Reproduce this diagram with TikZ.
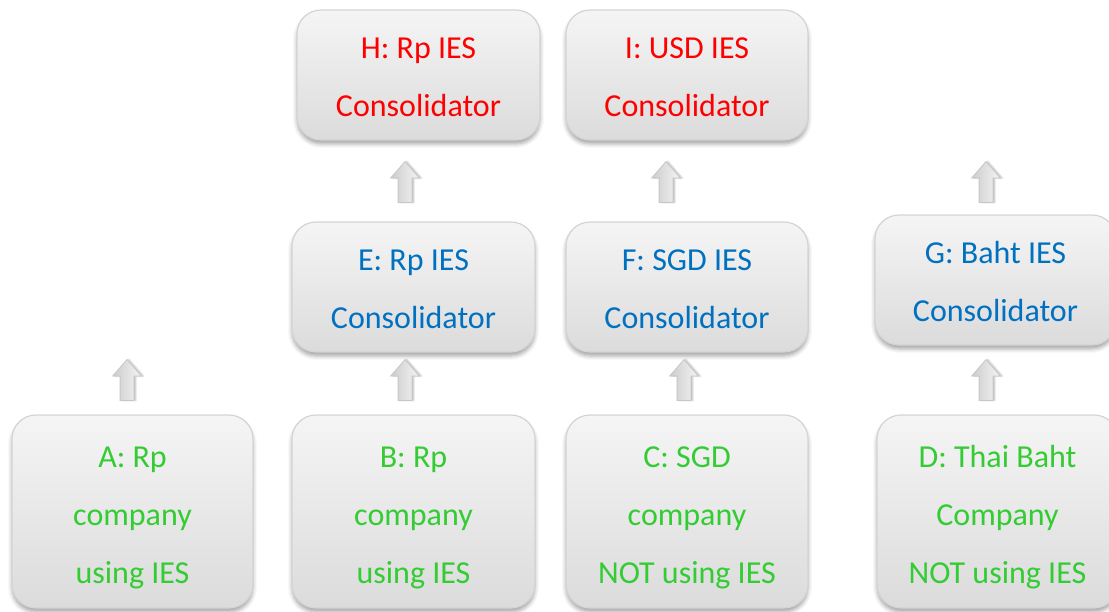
\documentclass[tikz,border=0pt]{standalone}
\usepackage{fontspec}
\setmainfont{Carlito}
\usetikzlibrary{shapes.arrows,shadows.blur}
\definecolor{redtxt}{RGB}{255,0,0}
\definecolor{bluetxt}{RGB}{0,112,192}
\definecolor{greentxt}{RGB}{51,204,51}
\newcommand\myTopS{\rule{0pt}{25pt}}
\newcommand\myTopT{\rule{0pt}{33pt}}
\begin{document}
\begin{tikzpicture}[x=1pt,y=-1pt,
  box/.style={draw=black!17, line width=1.2pt, rounded corners=24pt,
    top color=black!4, bottom color=black!14,
    blur shadow={shadow xshift=0pt, shadow yshift=-4pt, shadow blur radius=4pt, shadow opacity=35},
    align=center, font=\fontsize{32}{58}\selectfont, inner sep=0pt},
  small/.style={box, minimum width=243pt, minimum height=130pt},
  tall/.style={box, minimum width=242pt, minimum height=193pt},
  upar/.style={single arrow, rotate=90, draw=black!22, line width=0.8pt,
    left color=black!20, right color=black!4,
    minimum height=41pt, inner xsep=0pt, inner ysep=6.5pt,
    single arrow head extend=7.5pt, single arrow tip angle=82,
    blur shadow={shadow xshift=2pt, shadow yshift=0pt, shadow blur radius=1.5pt, shadow opacity=25}}
]
\useasboundingbox (0,0) rectangle (1109,612);
% top row
\node[small, text=redtxt] (H) at (418.5,75) {\myTopS H: Rp IES\\Consolidator};
\node[small, text=redtxt, minimum width=242pt] (I) at (687,75) {\myTopS I: USD IES\\Consolidator};
% middle row
\node[small, text=bluetxt] (E) at (413.5,287) {\myTopS E: Rp IES\\Consolidator};
\node[small, text=bluetxt, minimum width=242pt] (F) at (687,287) {\myTopS F: SGD IES\\Consolidator};
\node[small, text=bluetxt, minimum width=241pt] (G) at (995.5,280) {\myTopS G: Baht IES\\Consolidator};
% bottom row
\node[tall, text=greentxt, minimum width=241pt] (A) at (132.5,511.5) {\myTopT A: Rp\\company\\using IES};
\node[tall, text=greentxt, minimum width=243pt] (B) at (413.5,511.5) {\myTopT B: Rp\\company\\using IES};
\node[tall, text=greentxt] (C) at (687,511.5) {\myTopT C: SGD\\company\\NOT using IES};
\node[tall, text=greentxt, minimum width=241pt] (D) at (997.5,511.5) {\myTopT D: Thai Baht\\Company\\NOT using IES};
% block arrows
\node[upar] (aA) at (127,384) {};
\node[upar] (aBE) at (405,384) {};
\node[upar] (aCF) at (684,384) {};
\node[upar] (aDG) at (986,384) {};
\node[upar] (aEH) at (405,186) {};
\node[upar] (aFI) at (666,186) {};
\node[upar] (aG) at (986,186) {};
\end{tikzpicture}
\end{document}
